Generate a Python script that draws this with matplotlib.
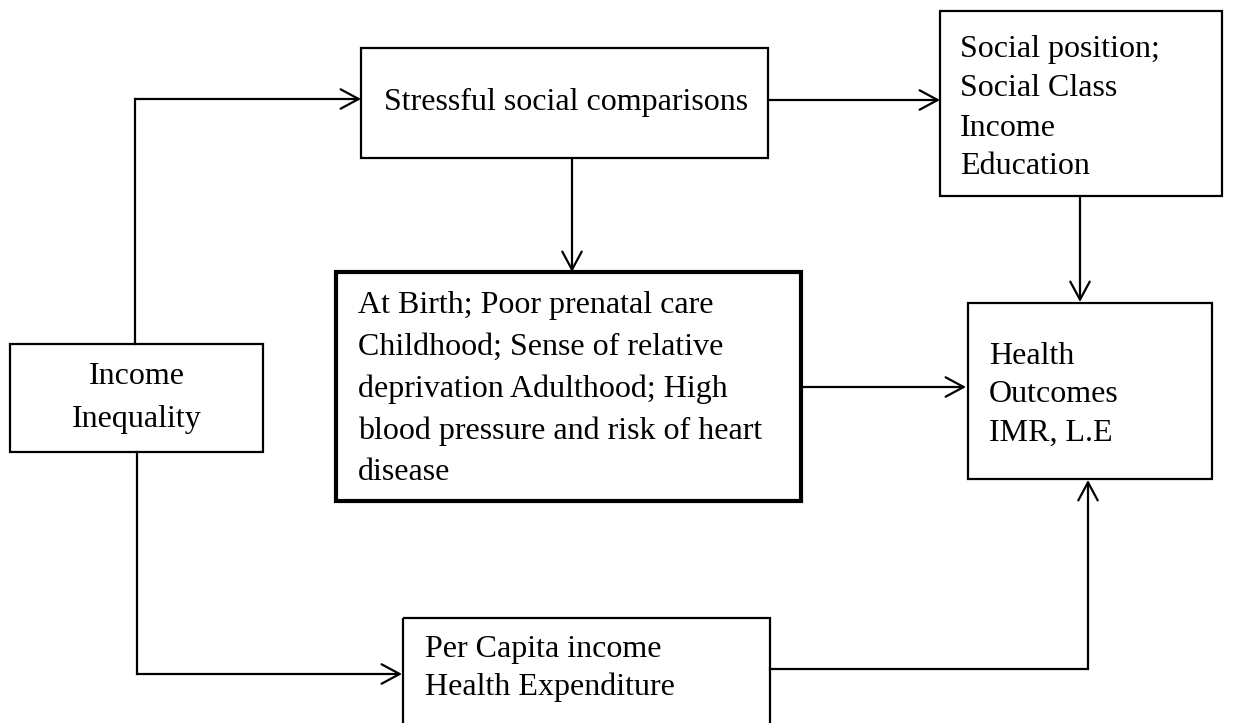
import matplotlib
matplotlib.use("Agg")
import matplotlib.pyplot as plt
from matplotlib.patches import Rectangle, FancyArrowPatch

plt.rcParams['font.family'] = ['Liberation Serif', 'DejaVu Serif']

# box labels
income_lines = ["Income", "Inequality"]
stress_lines = ["Stressful social comparisons"]
social_lines = ["Social position;", "Social Class", "Income", "Education"]
life_lines = ["At Birth; Poor prenatal care",
              "Childhood; Sense of relative",
              "deprivation Adulthood; High",
              "blood pressure and risk of heart",
              "disease"]
health_lines = ["Health", "Outcomes", "IMR, L.E"]
capita_lines = ["Per Capita income", "Health Expenditure"]

fig = plt.figure(figsize=(12.44, 7.23), dpi=100)
ax = fig.add_axes([0, 0, 1, 1])
ax.set_xlim(0, 1244)
ax.set_ylim(723, 0)
ax.axis('off')

FS = 23


def box(x0, y0, x1, y1, lw=1.6):
    ax.add_patch(Rectangle((x0, y0), x1 - x0, y1 - y0, fill=False,
                           edgecolor='black', linewidth=lw, joinstyle='miter'))


def lines_text(lines, x, y0, step, ha='left'):
    for i, s in enumerate(lines):
        ax.text(x, y0 + i * step, s, fontsize=FS, ha=ha, va='center', color='black')


def path_arrow(pts):
    xs = [p[0] for p in pts]
    ys = [p[1] for p in pts]
    if len(pts) > 2:
        ax.plot(xs[:-1], ys[:-1], color='black', lw=1.6, solid_joinstyle='miter')
    ax.add_patch(FancyArrowPatch(pts[-2], pts[-1], arrowstyle='->,head_length=13,head_width=7',
                                 mutation_scale=1, shrinkA=0, shrinkB=0, color='black', lw=1.6))


# boxes
box(10, 344, 263, 452)
box(361, 48, 768, 158)
box(940, 11, 1222, 196)
box(336, 272, 801, 501, lw=3.0)
box(968, 303, 1212, 479)
box(403, 618, 770, 740)

# texts
lines_text(income_lines, 137, 377, 43, ha='center')
lines_text(stress_lines, 384, 102, 40)
lines_text(social_lines, 960, 50, 39)
lines_text(life_lines, 358, 305, 42)
lines_text(health_lines, 989, 357, 38)
lines_text(capita_lines, 425, 650, 37)

# arrows
path_arrow([(135, 344), (135, 99), (361, 99)])
path_arrow([(768, 100), (940, 100)])
path_arrow([(572, 158), (572, 272)])
path_arrow([(1080, 196), (1080, 302)])
path_arrow([(801, 387), (966, 387)])
path_arrow([(137, 452), (137, 674), (402, 674)])
path_arrow([(770, 669), (1088, 669), (1088, 480)])

fig.savefig("out.png", dpi=100)
